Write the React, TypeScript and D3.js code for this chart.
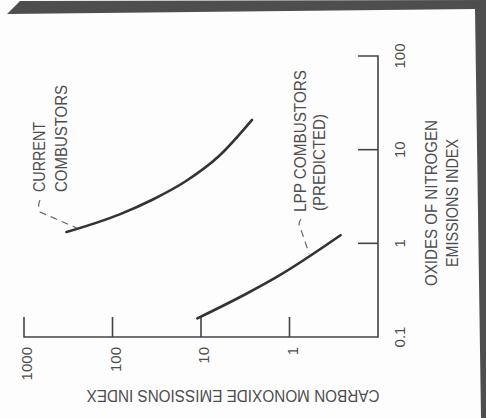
import React from "react";
import * as d3 from "d3";

// ---- data ----
// NOx emissions index vs CO emissions index
const currentNox = [1.32, 2.04, 2.94, 4.6, 8.5, 20.8];
const currentCo = [331, 83, 35, 14.9, 6.3, 2.65];
const lppNox = [0.158, 0.286, 0.449, 1.22];
const lppCo = [11.0, 3.15, 1.33, 0.265];

const coTicks = [1000, 100, 10, 1];
const coTickLabels = ["1000", "100", "10", "1"];
const noxTicks = [0.1, 1, 10, 100];
const noxTickLabels = ["0.1", "1", "10", "100"];

// annotation anchors on curves (data space)
const currentLeaderEnd = { nox: 1.45, co: 250 };
const lppLeaderEnd = { nox: 0.78, co: 0.6 };

const W = 486;
const H = 418;
const INK = "#333";
const TXT = "#4d4d4d";
const FONT = "'Liberation Sans', Arial, sans-serif";

export default function App() {
  const x = d3.scaleLog().domain([1000, 0.1]).range([24, 378]);
  const y = d3.scaleLog().domain([0.1, 100]).range([337, 56]);

  const line = d3
    .line<[number, number]>()
    .x((d) => x(d[1]))
    .y((d) => y(d[0]))
    .curve(d3.curveMonotoneX);

  const cur: [number, number][] = currentNox.map((n, i) => [n, currentCo[i]]);
  const lpp: [number, number][] = lppNox.map((n, i) => [n, lppCo[i]]);

  const x0 = x(1000);
  const x1 = x(0.1);
  const yb = y(0.1);
  const yt = y(100);
  const tickLen = 20;

  const ce = { x: x(currentLeaderEnd.co), y: y(currentLeaderEnd.nox) };
  const le = { x: x(lppLeaderEnd.co), y: y(lppLeaderEnd.nox) };

  const rotText = (
    tx: number,
    ty: number,
    s: string,
    len: number | null,
    anchor: string,
    size = 16
  ) => (
    <text
      key={s + tx + ty}
      transform={`translate(${tx},${ty}) rotate(-90)`}
      textAnchor={anchor}
      fontSize={size}
      fontFamily={FONT}
      fill={TXT}
      {...(len ? { textLength: len, lengthAdjust: "spacingAndGlyphs" } : {})}
    >
      {s}
    </text>
  );

  return (
    <div style={{ position: "fixed", left: 0, top: 0 }}>
      <svg width={W} height={H} viewBox={`0 0 ${W} ${H}`} style={{ display: "block", background: "#fdfdfd" }}>
        <rect width={W} height={H} fill="#fdfdfd" />
        {/* scan border */}
        <polygon points="7,14 20,1 486,0 486,418 481,418 475,9" fill="#4e4e4e" />

        {/* axes */}
        <path
          d={`M${x0},${yb - tickLen}V${yb}H${x1}V${yt}H${x1 - tickLen}`}
          fill="none"
          stroke="#444"
          strokeWidth={1.6}
        />
        {coTicks.slice(1).map((t) => (
          <line key={"ct" + t} x1={x(t)} x2={x(t)} y1={yb} y2={yb - tickLen} stroke="#444" strokeWidth={1.6} />
        ))}
        {noxTicks.slice(1, 3).map((t) => (
          <line key={"nt" + t} x1={x1} x2={x1 - tickLen} y1={y(t)} y2={y(t)} stroke="#444" strokeWidth={1.6} />
        ))}

        {/* CO tick labels */}
        {coTicks.map((t, i) =>
          rotText(x(t) + 8, yb + 10, coTickLabels[i], null, "end", 15)
        )}
        {/* NOx tick labels */}
        {noxTicks.map((t, i) =>
          rotText(x1 + 27, y(t), noxTickLabels[i], null, "middle", 15)
        )}

        {/* axis titles */}
        <text
          transform={`translate(233,390) rotate(180)`}
          textAnchor="middle"
          fontSize={16}
          fontFamily={FONT}
          fill={TXT}
          textLength={293}
          lengthAdjust="spacingAndGlyphs"
        >
          CARBON MONOXIDE EMISSIONS INDEX
        </text>
        {rotText(437, 203, "OXIDES OF NITROGEN", 166, "middle")}
        {rotText(458, 203, "EMISSIONS INDEX", 128, "middle")}

        {/* curves */}
        <path d={line(cur) || ""} fill="none" stroke={INK} strokeWidth={2.6} strokeLinecap="round" />
        <path d={line(lpp) || ""} fill="none" stroke={INK} strokeWidth={2.6} strokeLinecap="round" />

        {/* labels */}
        {rotText(45, 192, "CURRENT", 70, "start")}
        {rotText(67, 192, "COMBUSTORS", 107, "start")}
        {rotText(306, 212, "LPP COMBUSTORS", 142, "start")}
        {rotText(325, 211, "(PREDICTED)", 97, "start")}

        {/* leader lines */}
        <path
          d={`M40,200 Q37,206 40,212 L${ce.x},${ce.y}`}
          fill="none"
          stroke="#666"
          strokeWidth={1.2}
          strokeDasharray="7,5"
        />
        <path
          d={`M301,219 Q297,224 301,230 L${le.x},${le.y}`}
          fill="none"
          stroke="#666"
          strokeWidth={1.2}
          strokeDasharray="7,5"
        />
      </svg>
    </div>
  );
}
